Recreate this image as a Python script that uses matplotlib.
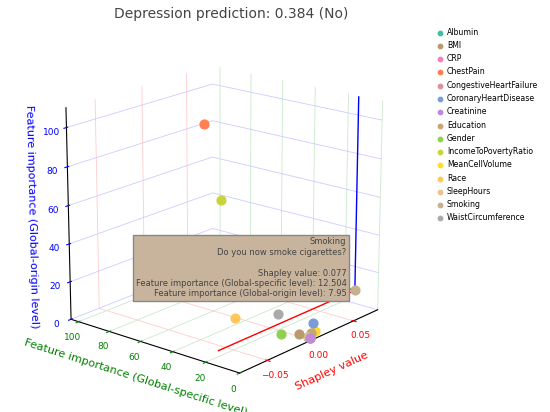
import matplotlib
matplotlib.use("Agg")
import matplotlib.pyplot as plt
import numpy as np

features = ["Albumin", "BMI", "CRP", "ChestPain", "CongestiveHeartFailure",
            "CoronaryHeartDisease", "Creatinine", "Education", "Gender",
            "IncomeToPovertyRatio", "MeanCellVolume", "Race", "SleepHours",
            "Smoking", "WaistCircumference"]
colors = ["#3dbfa0", "#b99b6b", "#f27fbf", "#ff8050", "#e0909a", "#7b9cd8",
          "#c08ad8", "#c9a570", "#8fd14f", "#c9d43a", "#ffd92f", "#ffc757",
          "#eac38f", "#c8b08f", "#aaaaaa"]
# estimated values
shapley = [0.0, -0.005, 0.0, -0.01, 0.0, 0.01, 0.0, 0.005, -0.02, 0.0, 0.01, -0.03, 0.0, 0.077, -0.01]
glob_specific = [2, 5, 1, 60, 1, 4, 1, 3, 8, 55, 3, 30, 2, 12.504, 15]
glob_origin = [1, 3, 1, 100, 1, 6, 1, 2, 5, 60, 2, 10, 1, 7.95, 12]

fig = plt.figure(figsize=(5.5, 4.12), dpi=100)
ax = fig.add_axes([0.02, 0.0, 0.76, 0.95], projection="3d")
for i, f in enumerate(features):
    ax.scatter(shapley[i], glob_specific[i], glob_origin[i], color=colors[i],
               s=40, depthshade=False, label=f)

# spike lines of the hovered point (Smoking)
sx, sy, sz = shapley[13], glob_specific[13], glob_origin[13]
ax.plot([sx, -0.08], [sy, sy], [sz, sz], color="red", lw=1)
ax.plot([sx, sx], [sy, 105], [sz, sz], color="green", lw=1)
ax.plot([sx, sx], [sy, sy], [sz, 110], color="blue", lw=1)

ax.set_xlim(-0.08, 0.08)
ax.set_ylim(0, 105)
ax.set_zlim(0, 110)
ax.set_xticks([-0.05, 0, 0.05])
ax.set_yticks([0, 20, 40, 60, 80, 100])
ax.set_zticks([0, 20, 40, 60, 80, 100])
ax.set_xlabel("Shapley value", color="red", fontsize=8, labelpad=-4)
ax.set_ylabel("Feature importance (Global-specific level)", color="green", fontsize=8, labelpad=-4)
ax.set_zlabel("Feature importance (Global-origin level)", color="blue", fontsize=8, labelpad=-4)
ax.tick_params(axis="x", colors="red", labelsize=6.5, pad=-2)
ax.tick_params(axis="y", colors="green", labelsize=6.5, pad=-2)
ax.tick_params(axis="z", colors="blue", labelsize=6.5, pad=-1)
for axis, c in ((ax.xaxis, "#ffcccc"), (ax.yaxis, "#cce8cc"), (ax.zaxis, "#ccccff")):
    axis.set_pane_color((1, 1, 1, 0))
    axis._axinfo["grid"]["color"] = c
    axis._axinfo["grid"]["linewidth"] = 0.6
ax.view_init(elev=18, azim=-140)
ax.set_box_aspect((1, 1, 1), zoom=0.95)

fig.text(0.42, 0.965, "Depression prediction: 0.384 (No)", ha="center",
         va="center", fontsize=10, color="#444444")
fig.legend(loc="upper left", bbox_to_anchor=(0.78, 0.95), frameon=False,
           fontsize=5.6, handletextpad=0.4, labelspacing=0.55, markerscale=0.5,
           handlelength=1.0)

ax.text2D(0.63, 0.35, "Smoking\nDo you now smoke cigarettes?\n\nShapley value: 0.077\n"
          "Feature importance (Global-specific level): 12.504\n"
          "Feature importance (Global-origin level): 7.95",
          transform=fig.transFigure, ha="right", va="center", fontsize=6, color="#444444",
          multialignment="right",
          bbox=dict(boxstyle="square,pad=0.3", fc="#c8b49c", ec="#888888"))

fig.savefig("out.png", dpi=100)
